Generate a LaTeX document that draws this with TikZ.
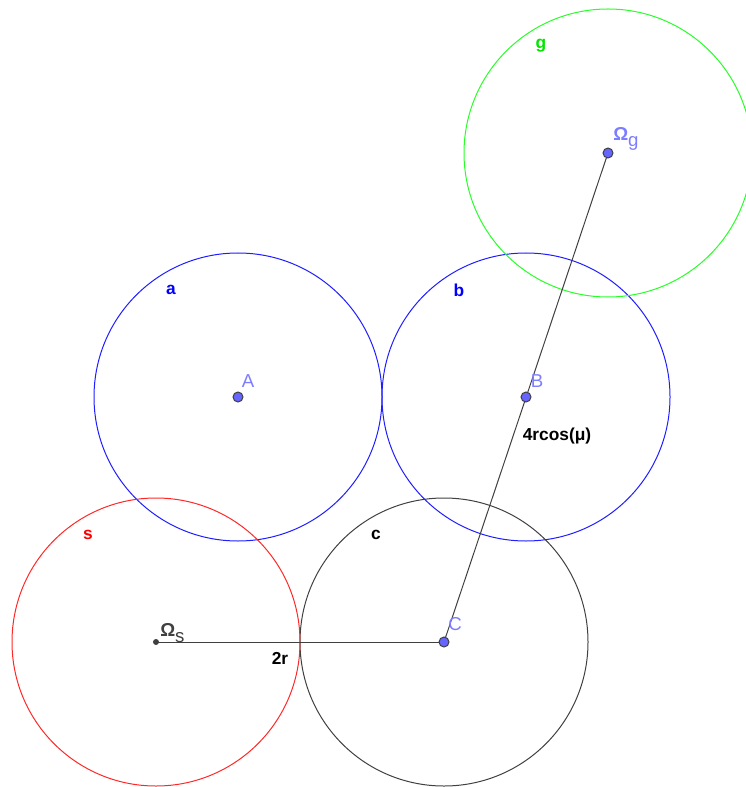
\documentclass[tikz,border=0pt]{standalone}
\usepackage{fontspec}
\setmainfont{Liberation Sans}
\usepackage{tikz}
\usepackage{xcolor}

\definecolor{ptfill}{RGB}{102,102,255}
\definecolor{ptlabel}{RGB}{125,125,255}
\definecolor{darkgray}{RGB}{64,64,64}

\begin{document}
\begin{tikzpicture}[x=0.75pt,y=0.75pt,yscale=-1,xscale=1,
  ptdot/.style={circle,draw=darkgray,fill=ptfill,line width=0.75,inner sep=0pt,minimum size=7.5pt},
  smalldot/.style={circle,fill=darkgray,inner sep=0pt,minimum size=4.5pt},
  ptname/.style={inner sep=0.75pt,font=\fontsize{14}{16}\selectfont,text=ptlabel},
  circname/.style={inner sep=0.75pt,font=\fontsize{13}{15}\selectfont\bfseries},
  seglabel/.style={inner sep=0.75pt,font=\fontsize{13}{15}\selectfont\bfseries,text=black}]
\useasboundingbox (0,0) rectangle (745,787);

%Points
\coordinate (A) at (238,397);
\coordinate (B) at (526,397);
\coordinate (C) at (444,642);
\coordinate (Os) at (156,642);
\coordinate (Og) at (608,153);

%Shape: Circle
\draw [color={rgb, 255:red, 30; green, 30; blue, 255 }  ][line width=0.75]  (A) circle (144) ;
%Shape: Circle
\draw [color={rgb, 255:red, 30; green, 30; blue, 255 }  ][line width=0.75]  (B) circle (144) ;
%Shape: Circle
\draw [color={rgb, 255:red, 64; green, 64; blue, 64 }  ][line width=0.75]  (C) circle (144) ;
%Shape: Circle
\draw [color={rgb, 255:red, 255; green, 40; blue, 40 }  ][line width=0.75]  (Os) circle (144) ;
%Shape: Circle
\draw [color={rgb, 255:red, 40; green, 255; blue, 40 }  ][line width=0.75]  (Og) circle (144) ;

%Straight Lines
\draw [color=darkgray][line width=0.75]    (Os) -- (C) ;
%Straight Lines
\draw [color=darkgray][line width=0.75]    (C) -- (Og) ;

%Shape: Points
\node [ptdot] (dotA) at (A) {};
\node [ptdot] (dotB) at (B) {};
\node [ptdot] (dotC) at (C) {};
\node [ptdot] (dotOg) at (Og) {};
\node [smalldot] (dotOs) at (Os) {};

% Text Node
\node [circname,text={rgb,255:red,0;green,0;blue,255}] (labela) at (171,290) {a};
% Text Node
\node [circname,text={rgb,255:red,0;green,0;blue,255}] (labelb) at (459,290) {b};
% Text Node
\node [circname,text={rgb,255:red,0;green,230;blue,0}] (labelg) at (541,46) {g};
% Text Node
\node [circname,text={rgb,255:red,255;green,0;blue,0}] (labels) at (88,535) {s};
% Text Node
\node [circname,text=black] (labelc) at (376,535) {c};
% Text Node
\node [ptname] (labelA) at (248,381) {A};
% Text Node
\node [ptname] (labelB) at (537,381) {B};
% Text Node
\node [ptname] (labelC) at (455,624) {C};
% Text Node
\node [ptname,anchor=west] (labelOg) at (612,139) {\textbf{Ω}\raisebox{-0.55ex}{g}};
% Text Node
\node [ptname,anchor=west,text=darkgray] (labelOs) at (159,633) {\textbf{Ω}\raisebox{-0.55ex}{s}};
% Text Node
\node [seglabel] (len2r) at (280,658) {2r};
% Text Node
\node [seglabel] (len4r) at (557,436) {4rcos(μ)};
\end{tikzpicture}
\end{document}
